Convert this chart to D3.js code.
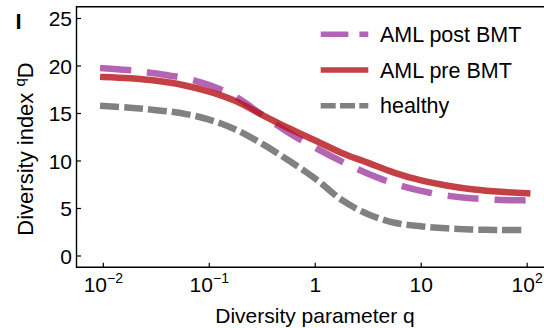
<!DOCTYPE html>
<html>
<head>
<meta charset="utf-8">
<script src="https://cdn.jsdelivr.net/npm/d3@7"></script>
<style>
  html, body { margin: 0; padding: 0; background: #fff; }
  svg { display: block; font-family: "Liberation Sans", Arial, sans-serif; }
</style>
</head>
<body>
<div id="chart"></div>
<script>
// log10(q) sample points and diversity values
const logQ = [-2, -1.75, -1.5, -1.25, -1, -0.75, -0.5, -0.25, 0, 0.25, 0.5, 0.75, 1, 1.25, 1.5, 1.75, 2];
const amlPost = [19.76, 19.55, 19.2, 18.75, 18.0, 16.75, 14.85, 12.97, 11.4, 9.95, 8.65, 7.6, 6.85, 6.35, 6.05, 5.9, 5.85];
const amlPre = [18.84, 18.7, 18.44, 18.0, 17.3, 16.3, 14.85, 13.45, 12.15, 10.85, 9.8, 8.75, 7.95, 7.4, 7.0, 6.75, 6.6];
const healthy = [15.79, 15.6, 15.35, 15.0, 14.35, 13.3, 11.8, 10.05, 8.15, 5.9, 4.4, 3.5, 3.12, 2.9, 2.78, 2.74, 2.72];

const seriesNames = ['AML post BMT', 'AML pre BMT', 'healthy'];
const yTicks = [0, 5, 10, 15, 20, 25];
const xTicks = [0.01, 0.1, 1, 10, 100];
const xTickBase = ['10', '10', '1', '10', '10'];
const xTickExp = ['\u22122', '\u22121', '', '', '2'];

const width = 544, height = 328;
const margin = { top: 6.7, left: 76.5, bottom: 60.7, right: -10 };

const svg = d3.select('#chart').append('svg')
  .attr('width', width)
  .attr('height', height);

const x = d3.scaleLog()
  .domain([Math.pow(10, -2.253), Math.pow(10, 2.253)])
  .range([margin.left, width - margin.right]);

const y = d3.scaleLinear()
  .domain([-1.19, 26.24])
  .range([height - margin.bottom, margin.top]);

// styles per series (draw order: healthy, post, pre)
// plot lines use square caps, so dash lengths are shortened by the width
const styles = {
  'AML post BMT': { color: 'rgb(160,62,160)', dash: '24.5,22.5', legendDash: '27.7,11', opacity: 0.8 },
  'AML pre BMT': { color: 'rgb(182,22,28)', dash: null, legendDash: null, opacity: 0.82 },
  'healthy': { color: 'rgb(98,98,98)', dash: '12.5,11.5', legendDash: '15,4.3', opacity: 0.8 }
};
const values = { 'AML post BMT': amlPost, 'AML pre BMT': amlPre, 'healthy': healthy };

const line = d3.line()
  .x((d, i) => x(Math.pow(10, logQ[i])))
  .y(d => y(d))
  .curve(d3.curveCatmullRom.alpha(0.5));

['healthy', 'AML post BMT', 'AML pre BMT'].forEach(name => {
  const s = styles[name];
  svg.append('path')
    .attr('d', line(values[name]))
    .attr('fill', 'none')
    .attr('stroke', s.color)
    .attr('stroke-opacity', s.opacity)
    .attr('stroke-width', 6.5)
    .attr('stroke-linecap', 'square')
    .attr('stroke-dasharray', s.dash);
});

// frame
const x0 = margin.left, x1 = width - margin.right;
const yTop = margin.top, yBot = height - margin.bottom;
svg.append('path')
  .attr('d', `M${x1},${yTop}H${x0}V${yBot}H${x1}`)
  .attr('fill', 'none')
  .attr('stroke', '#000')
  .attr('stroke-width', 1.4);

// y axis ticks (inward) and labels
yTicks.forEach(t => {
  svg.append('line')
    .attr('x1', x0).attr('x2', x0 + 4.5)
    .attr('y1', y(t)).attr('y2', y(t))
    .attr('stroke', '#000').attr('stroke-width', 1.2);
  svg.append('text')
    .attr('x', x0 - 4.5)
    .attr('y', y(t))
    .attr('dy', '0.36em')
    .attr('text-anchor', 'end')
    .attr('font-size', 21)
    .text(t);
});

// x axis ticks and labels
xTicks.forEach((t, i) => {
  svg.append('line')
    .attr('x1', x(t)).attr('x2', x(t))
    .attr('y1', yBot).attr('y2', yBot - 4.5)
    .attr('stroke', '#000').attr('stroke-width', 1.2);
  const txt = svg.append('text')
    .attr('x', x(t))
    .attr('y', 292)
    .attr('text-anchor', 'middle')
    .attr('font-size', 21);
  txt.append('tspan').text(xTickBase[i]);
  if (xTickExp[i]) {
    txt.append('tspan')
      .attr('dy', -9)
      .attr('font-size', 14)
      .text(xTickExp[i]);
  }
});

// axis titles
svg.append('text')
  .attr('x', 315)
  .attr('y', 323)
  .attr('text-anchor', 'middle')
  .attr('font-size', 21)
  .text('Diversity parameter q');

const yTitle = svg.append('text')
  .attr('transform', 'translate(33,149) rotate(-90)')
  .attr('text-anchor', 'middle')
  .attr('font-size', 22);
yTitle.append('tspan').text('Diversity index ');
yTitle.append('tspan').attr('dy', -8).attr('font-size', 15).text('q');
yTitle.append('tspan').attr('dy', 8).text('D');

// panel label
svg.append('text')
  .attr('x', 15.5)
  .attr('y', 29.3)
  .attr('font-size', 22)
  .attr('font-weight', 'bold')
  .text('I');

// legend
const legendY = [34.3, 70, 105.7];
seriesNames.forEach((name, i) => {
  const s = styles[name];
  svg.append('line')
    .attr('x1', 320.7).attr('x2', 368.3)
    .attr('y1', legendY[i]).attr('y2', legendY[i])
    .attr('stroke', s.color)
    .attr('stroke-opacity', s.opacity)
    .attr('stroke-width', 5.5)
    .attr('stroke-dasharray', s.legendDash);
  svg.append('text')
    .attr('x', 380)
    .attr('y', legendY[i])
    .attr('dy', '0.36em')
    .attr('font-size', 21.5)
    .text(name);
});
</script>
</body>
</html>
